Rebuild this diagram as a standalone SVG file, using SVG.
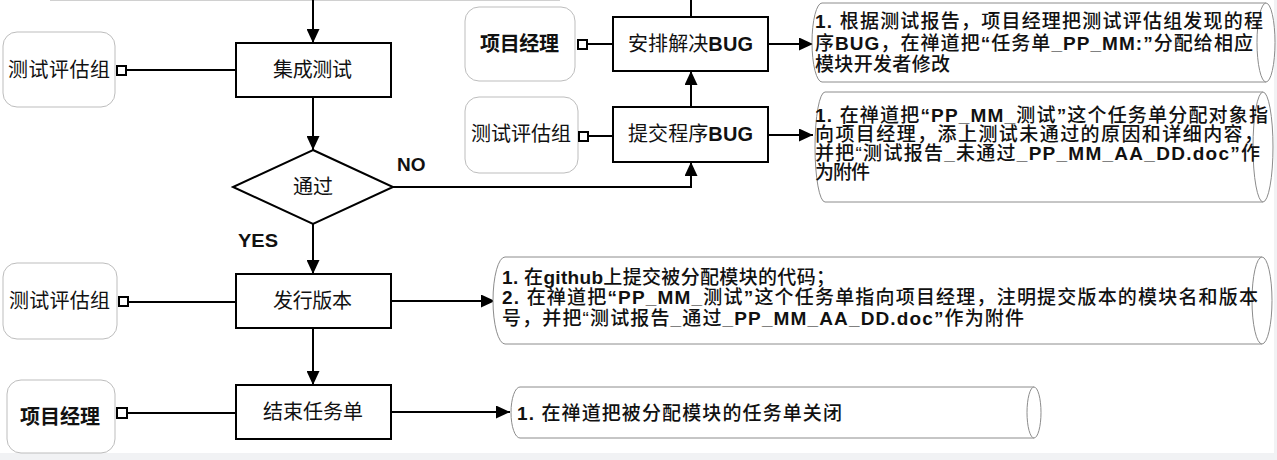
<svg xmlns="http://www.w3.org/2000/svg" width="1277" height="460" viewBox="0 0 1277 460">
<style>
text{font-family:'Liberation Sans','Noto Sans CJK SC',sans-serif;fill:#111}
.lbl{font-size:20px}
.desc{font-size:19px;font-weight:500}
.b{font-weight:bold}
.proc{fill:#fff;stroke:#000;stroke-width:2}
.role{fill:#fff;stroke:#bdbdbd;stroke-width:1}
.pipe{fill:#fff;stroke:#8c8c8c;stroke-width:1}
.port{fill:#fff;stroke:#000;stroke-width:2}
.ln{fill:none;stroke:#000;stroke-width:2}
</style>
<defs>
<marker id="ah" markerUnits="userSpaceOnUse" markerWidth="15" markerHeight="13" refX="14" refY="6.5" orient="auto">
<path d="M0,0 L14,6.5 L0,13 Z" fill="#000"/>
</marker>
</defs>
<rect width="1277" height="460" fill="#fff"/>
<rect x="0" y="453" width="1277" height="7" fill="#f1f2f4"/>
<rect x="1274" y="0" width="3" height="460" fill="#f1f2f4"/>
<line x1="50" y1="0.5" x2="560" y2="0.5" stroke="#d0d0d0" stroke-width="1"/>

<g id="connectors">
<line class="ln" x1="313" y1="0" x2="313" y2="43" marker-end="url(#ah)"/>
<line class="ln" x1="126" y1="70" x2="236" y2="70"/>
<line class="ln" x1="313" y1="97" x2="313" y2="150" marker-end="url(#ah)"/>
<polyline class="ln" points="393,187 691,187 691,162" marker-end="url(#ah)"/>
<line class="ln" x1="691" y1="107" x2="691" y2="71" marker-end="url(#ah)"/>
<line class="ln" x1="691" y1="17" x2="691" y2="0"/>
<line class="ln" x1="587" y1="44" x2="613" y2="44"/>
<line class="ln" x1="588" y1="136" x2="613" y2="136"/>
<line class="ln" x1="768" y1="44" x2="813" y2="44" marker-end="url(#ah)"/>
<line class="ln" x1="768" y1="135" x2="813" y2="135" marker-end="url(#ah)"/>
<line class="ln" x1="313" y1="224" x2="313" y2="274" marker-end="url(#ah)"/>
<line class="ln" x1="128" y1="302" x2="236" y2="302"/>
<line class="ln" x1="391" y1="301" x2="495" y2="301" marker-end="url(#ah)"/>
<line class="ln" x1="313" y1="328" x2="313" y2="385" marker-end="url(#ah)"/>
<line class="ln" x1="127" y1="413" x2="236" y2="413"/>
<line class="ln" x1="391" y1="412" x2="510" y2="412" marker-end="url(#ah)"/>
<text x="397" y="171" class="b" font-size="19">NO</text>
<text x="238" y="247" class="b" font-size="18" textLength="40" lengthAdjust="spacingAndGlyphs">YES</text>
</g>

<g id="role-test1">
<rect class="role" x="3" y="32" width="112" height="75" rx="14"/>
<text class="lbl" x="8" y="77" textLength="102" lengthAdjust="spacing">测试评估组</text>
<rect class="port" x="117" y="66" width="9" height="9"/>
</g>
<g id="integration-test">
<rect class="proc" x="236" y="43" width="155" height="54"/>
<text class="lbl" x="273" y="77" textLength="79" lengthAdjust="spacing">集成测试</text>
</g>
<g id="pass-decision">
<polygon class="proc" points="313,150 393,187 313,224 233,187"/>
<text class="lbl" x="293" y="194" textLength="40" lengthAdjust="spacing">通过</text>
</g>

<g id="role-pm1">
<rect class="role" x="465" y="7" width="110" height="74" rx="14"/>
<text class="lbl b" x="480" y="51" textLength="79" lengthAdjust="spacing">项目经理</text>
<rect class="port" x="578" y="40" width="9" height="9"/>
</g>
<g id="arrange-bug">
<rect class="proc" x="613" y="17" width="155" height="54"/>
<text class="lbl" x="628" y="51" textLength="125" lengthAdjust="spacing">安排解决<tspan class="b">BUG</tspan></text>
</g>
<g id="role-test2">
<rect class="role" x="465" y="97" width="113" height="76" rx="14"/>
<text class="lbl" x="471" y="141" textLength="100" lengthAdjust="spacing">测试评估组</text>
<rect class="port" x="579" y="132" width="9" height="9"/>
</g>
<g id="submit-bug">
<rect class="proc" x="613" y="107" width="155" height="55"/>
<text class="lbl" x="628" y="141" textLength="125" lengthAdjust="spacing">提交程序<tspan class="b">BUG</tspan></text>
</g>

<g id="note-arrange">
<path class="pipe" d="M822,3 L1266,3 A9,39.5 0 0 1 1266,82 L822,82 A10,39.5 0 0 1 822,3 Z"/>
<path class="pipe" d="M1266,3 A9,39.5 0 0 0 1266,82"/>
<text class="desc" x="815" y="28" textLength="448" lengthAdjust="spacing"><tspan class="b">1. </tspan>根据测试报告，项目经理把测试评估组发现的程</text>
<text class="desc" x="815" y="50" textLength="438" lengthAdjust="spacing">序<tspan class="b">BUG</tspan>，在禅道把<tspan class="b">“</tspan>任务单<tspan class="b">_PP_MM:”</tspan>分配给相应</text>
<text class="desc" x="815" y="71" textLength="135" lengthAdjust="spacing">模块开发者修改</text>
</g>
<g id="note-submit">
<path class="pipe" d="M825,92 L1263,92 A10,55 0 0 1 1263,202 L825,202 A10,55 0 0 1 825,92 Z"/>
<path class="pipe" d="M1263,92 A10,55 0 0 0 1263,202"/>
<text class="desc" x="815" y="122" textLength="453" lengthAdjust="spacing"><tspan class="b">1. </tspan>在禅道把<tspan class="b">“PP_MM_</tspan>测试<tspan class="b">”</tspan>这个任务单分配对象指</text>
<text class="desc" x="815" y="141" textLength="448" lengthAdjust="spacing">向项目经理，添上测试未通过的原因和详细内容，</text>
<text class="desc" x="815" y="160" textLength="445" lengthAdjust="spacing">并把“测试报告<tspan class="b">_</tspan>未通过<tspan class="b">_PP_MM_AA_DD.doc”</tspan>作</text>
<text class="desc" x="815" y="179" textLength="55" lengthAdjust="spacing">为附件</text>
</g>

<g id="role-test3">
<rect class="role" x="3" y="263" width="114" height="76" rx="14"/>
<text class="lbl" x="9" y="308" textLength="101" lengthAdjust="spacing">测试评估组</text>
<rect class="port" x="119" y="297" width="9" height="9"/>
</g>
<g id="release">
<rect class="proc" x="236" y="274" width="155" height="54"/>
<text class="lbl" x="273" y="308" textLength="79" lengthAdjust="spacing">发行版本</text>
</g>
<g id="note-release">
<path class="pipe" d="M505,257 L1262,257 A10,43.5 0 0 1 1262,344 L505,344 A12,43.5 0 0 1 505,257 Z"/>
<path class="pipe" d="M1262,257 A10,43.5 0 0 0 1262,344"/>
<text class="desc" x="502" y="284" textLength="333" lengthAdjust="spacing"><tspan class="b">1. </tspan>在<tspan class="b">github</tspan>上提交被分配模块的代码；</text>
<text class="desc" x="502" y="304" textLength="756" lengthAdjust="spacing"><tspan class="b">2. </tspan>在禅道把<tspan class="b">“PP_MM_</tspan>测试<tspan class="b">”</tspan>这个任务单指向项目经理，注明提交版本的模块名和版本</text>
<text class="desc" x="502" y="325" textLength="522" lengthAdjust="spacing">号，并把“测试报告<tspan class="b">_</tspan>通过<tspan class="b">_PP_MM_AA_DD.doc”</tspan>作为附件</text>
</g>

<g id="role-pm2">
<rect class="role" x="7" y="380" width="108" height="73" rx="14"/>
<text class="lbl b" x="20" y="424" textLength="80" lengthAdjust="spacing">项目经理</text>
<rect class="port" x="117" y="408" width="10" height="10"/>
</g>
<g id="close-task">
<rect class="proc" x="236" y="385" width="155" height="54"/>
<text class="lbl" x="263" y="419" textLength="100" lengthAdjust="spacing">结束任务单</text>
</g>
<g id="note-close">
<path class="pipe" d="M520,387 L1034,387 A7,25.5 0 0 1 1034,438 L520,438 A9,25.5 0 0 1 520,387 Z"/>
<path class="pipe" d="M1034,387 A7,25.5 0 0 0 1034,438"/>
<text class="desc" x="517" y="420" textLength="325" lengthAdjust="spacing"><tspan class="b">1. </tspan>在禅道把被分配模块的任务单关闭</text>
</g>
</svg>
